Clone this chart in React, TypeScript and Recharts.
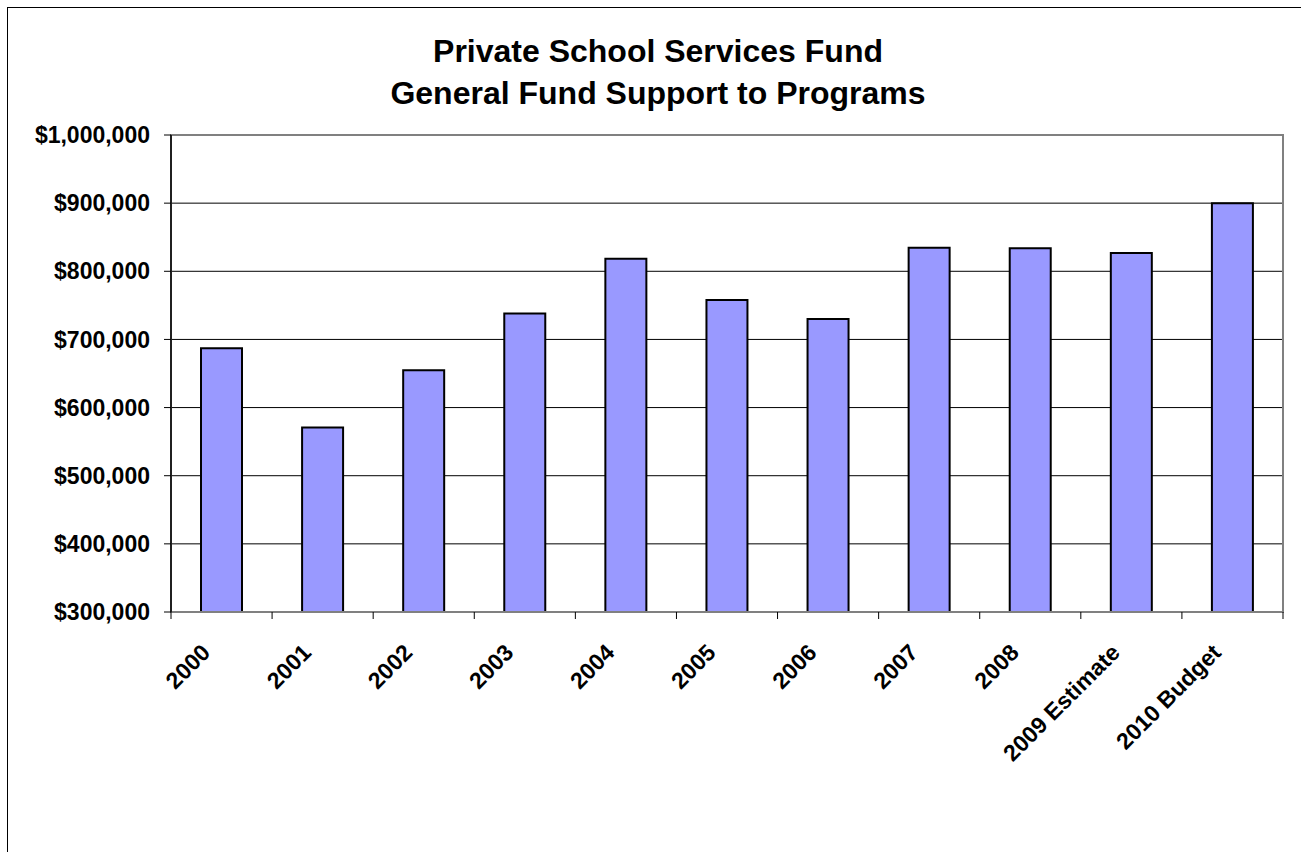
import React from 'react';
import {
  BarChart,
  Bar,
  XAxis,
  YAxis,
  CartesianGrid,
  ReferenceArea
} from 'recharts';

// categories and values
const categories = [
  '2000', '2001', '2002', '2003', '2004', '2005', '2006', '2007', '2008',
  '2009 Estimate', '2010 Budget'
];
const fundSupport = [
  687000, 570600, 654800, 738200, 818500, 757700, 729800, 834600, 833700,
  826800, 900000
];
const yTicks = [300000, 400000, 500000, 600000, 700000, 800000, 900000, 1000000];
const titleLines = ['Private School Services Fund', 'General Fund Support to Programs'];

const FONT = '"Liberation Sans", Arial, Helvetica, sans-serif';

const data = categories.map((name, i) => ({ name, value: fundSupport[i] }));

const formatDollar = (v: number) => '$' + v.toLocaleString('en-US');

// x tick: label rotated -45deg, tick marks sit on category boundaries (Excel style)
const CategoryTick = (props: any) => {
  const { x, y, payload, index } = props;
  const half = payload?.offset ?? 0;
  const lx = x - 10;
  const ly = y + 42;
  return (
    <g>
      <line x1={x - half} x2={x - half} y1={y} y2={y + 7} stroke="#000" strokeWidth={1} />
      {index === categories.length - 1 && (
        <line x1={x + half} x2={x + half} y1={y} y2={y + 7} stroke="#000" strokeWidth={1} />
      )}
      <text
        x={lx}
        y={ly}
        transform={`rotate(-45, ${lx}, ${ly})`}
        textAnchor="end"
        fontFamily={FONT}
        fontSize={23}
        fontWeight="bold"
        fill="#000"
      >
        {payload.value}
      </text>
    </g>
  );
};

export default function App() {
  return (
    <div
      style={{
        position: 'absolute',
        left: 7,
        top: 7,
        width: 1294,
        height: 845,
        borderLeft: '1px solid #000',
        borderTop: '1px solid #000',
        boxSizing: 'border-box',
        background: '#fff',
        overflow: 'hidden'
      }}
    >
      <BarChart
        width={1293}
        height={844}
        data={data}
        margin={{ top: 127, right: 18, left: 0, bottom: 0 }}
      >
        <CartesianGrid vertical={false} stroke="#000" strokeWidth={1} />
        <ReferenceArea
          y1={300000}
          y2={1000000}
          fill="none"
          stroke="#808080"
          strokeWidth={2}
        />
        <XAxis
          dataKey="name"
          interval={0}
          height={240}
          tickSize={0}
          tickMargin={0}
          tickLine={false}
          axisLine={{ stroke: '#808080', strokeWidth: 2 }}
          tick={<CategoryTick />}
        />
        <YAxis
          width={163}
          domain={[300000, 1000000]}
          ticks={yTicks}
          interval={0}
          allowDataOverflow
          tickFormatter={formatDollar}
          tickSize={7}
          tickMargin={14}
          axisLine={{ stroke: '#000', strokeWidth: 1.5 }}
          tickLine={{ stroke: '#000' }}
          tick={{ fontFamily: FONT, fontSize: 23, fontWeight: 'bold', fill: '#000' }}
        />
        <Bar
          dataKey="value"
          barSize={41}
          fill="#9999FF"
          stroke="#000"
          strokeWidth={2}
          isAnimationActive={false}
        />
      </BarChart>
      <svg
        width={1293}
        height={120}
        style={{ position: 'absolute', left: 0, top: 0, pointerEvents: 'none' }}
      >
        {titleLines.map((line, i) => (
          <text
            key={line}
            x={650}
            y={54 + i * 42}
            textAnchor="middle"
            fontFamily={FONT}
            fontSize={32}
            fontWeight="bold"
            fill="#000"
          >
            {line}
          </text>
        ))}
      </svg>
    </div>
  );
}
